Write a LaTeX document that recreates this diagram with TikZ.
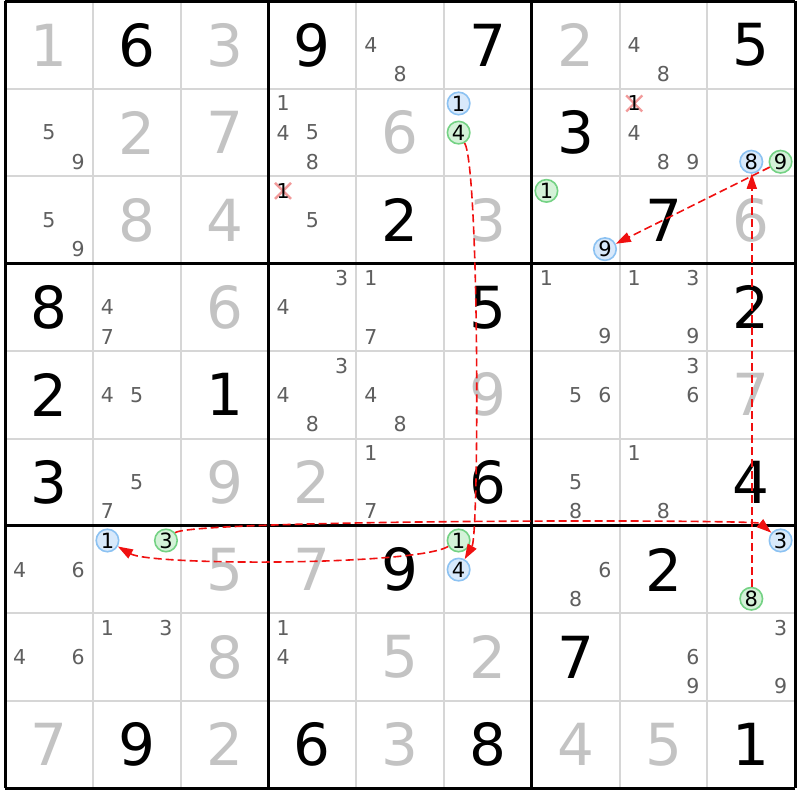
\documentclass[tikz,border=0pt]{standalone}
\usepackage{fontspec}
\setmainfont{DejaVu Sans}
\usetikzlibrary{arrows.meta}
\definecolor{solvedC}{HTML}{C3C3C3}
\definecolor{candC}{HTML}{5F5F5F}
\definecolor{gridC}{HTML}{D6D6D6}
\definecolor{blueF}{HTML}{D8E9FB}
\definecolor{blueS}{HTML}{8CC2F2}
\definecolor{greenF}{HTML}{D4F2D8}
\definecolor{greenS}{HTML}{74D284}
\definecolor{crossC}{HTML}{F29A9A}
\definecolor{chainC}{HTML}{F01010}
\newcommand\bigfont{\fontsize{58}{58}\selectfont}
\newcommand\candfont{\fontsize{20.5}{20.5}\selectfont}
\newcommand\circfont{\fontsize{21}{21}\selectfont}
\newcommand\PutBig[4]{%
  \node[#1] (d-#2-#3) at ({5+(#3-0.5)*87.8},{-(1.5+(#2-0.5)*87.4)}) {#4};}
\newcommand\Gv[3]{\PutBig{givenD}{#1}{#2}{#3}}
\newcommand\Sv[3]{\PutBig{solvedD}{#1}{#2}{#3}}
\newcommand\CandPos[3]{%
  \pgfmathsetmacro\candx{5+(#2-1)*87.8+(mod(#3-1,3)+0.5)*87.8/3}%
  \pgfmathsetmacro\candy{-(1.5+(#1-1)*87.4+(floor((#3-1)/3)+0.5)*87.4/3)}}
\newcommand\PutCand[4]{%
  \CandPos{#2}{#3}{#4}%
  \node[#1] (k-#2-#3-#4) at (\candx,\candy) {#4};}
\newcommand\Cd[3]{\PutCand{candD}{#1}{#2}{#3}}
\newcommand\Cb[3]{\PutCand{blueD}{#1}{#2}{#3}}
\newcommand\Cg[3]{\PutCand{greenD}{#1}{#2}{#3}}
\newcommand\Cx[3]{%
  \CandPos{#1}{#2}{#3}%
  \draw[crossL] (\candx-8,\candy-8) -- (\candx+8,\candy+8) (\candx-8,\candy+8) -- (\candx+8,\candy-8);
  \node[xD] (k-#1-#2-#3) at (\candx,\candy) {#3};}
\begin{document}
\begin{tikzpicture}[x=1pt,y=1pt,
  givenD/.style={inner sep=0pt,font=\bigfont,text=black},
  solvedD/.style={inner sep=0pt,font=\bigfont,text=solvedC},
  candD/.style={inner sep=0pt,font=\candfont,text=candC},
  xD/.style={inner sep=0pt,font=\candfont,text=black},
  blueD/.style={circle,draw=blueS,fill=blueF,line width=1.6pt,minimum size=22.5pt,inner sep=0pt,font=\circfont,text=black},
  greenD/.style={circle,draw=greenS,fill=greenF,line width=1.6pt,minimum size=22.5pt,inner sep=0pt,font=\circfont,text=black},
  crossL/.style={draw=crossC,line width=2.4pt},
  thinG/.style={draw=gridC,line width=2pt},
  thickG/.style={draw=black,line width=3pt},
  chainA/.style={draw=chainC,line width=1.6pt,dash pattern=on 8pt off 4pt,-{Triangle[length=15pt,width=10pt]}}]
\fill[white] (0,0) rectangle (800,-800);
\useasboundingbox (0,0) rectangle (800,-800);
% grid
\foreach \i in {1,2,4,5,7,8}{
  \draw[thinG] ({5+\i*87.8},-1.5) -- ({5+\i*87.8},-788.1);
  \draw[thinG] (5,{-(1.5+\i*87.4)}) -- (795.2,{-(1.5+\i*87.4)});
}
\foreach \i in {0,3,6,9}{
  \draw[thickG] ({5+\i*87.8},-1.5) -- ({5+\i*87.8},-788.1);
  \draw[thickG] (5,{-(1.5+\i*87.4)}) -- (795.2,{-(1.5+\i*87.4)});
}
% row 1
\Sv{1}{1}{1}\Gv{1}{2}{6}\Sv{1}{3}{3}\Gv{1}{4}{9}\Cd{1}{5}{4}\Cd{1}{5}{8}\Gv{1}{6}{7}\Sv{1}{7}{2}\Cd{1}{8}{4}\Cd{1}{8}{8}\Gv{1}{9}{5}
% row 2
\Cd{2}{1}{5}\Cd{2}{1}{9}\Sv{2}{2}{2}\Sv{2}{3}{7}\Cd{2}{4}{1}\Cd{2}{4}{4}\Cd{2}{4}{5}\Cd{2}{4}{8}\Sv{2}{5}{6}\Cb{2}{6}{1}\Cg{2}{6}{4}\Gv{2}{7}{3}
\Cx{2}{8}{1}\Cd{2}{8}{4}\Cd{2}{8}{8}\Cd{2}{8}{9}\Cb{2}{9}{8}\Cg{2}{9}{9}
% row 3
\Cd{3}{1}{5}\Cd{3}{1}{9}\Sv{3}{2}{8}\Sv{3}{3}{4}\Cx{3}{4}{1}\Cd{3}{4}{5}\Gv{3}{5}{2}\Sv{3}{6}{3}\Cg{3}{7}{1}\Cb{3}{7}{9}\Gv{3}{8}{7}\Sv{3}{9}{6}
% row 4
\Gv{4}{1}{8}\Cd{4}{2}{4}\Cd{4}{2}{7}\Sv{4}{3}{6}\Cd{4}{4}{3}\Cd{4}{4}{4}\Cd{4}{5}{1}\Cd{4}{5}{7}\Gv{4}{6}{5}\Cd{4}{7}{1}\Cd{4}{7}{9}\Cd{4}{8}{1}\Cd{4}{8}{3}\Cd{4}{8}{9}\Gv{4}{9}{2}
% row 5
\Gv{5}{1}{2}\Cd{5}{2}{4}\Cd{5}{2}{5}\Gv{5}{3}{1}\Cd{5}{4}{3}\Cd{5}{4}{4}\Cd{5}{4}{8}\Cd{5}{5}{4}\Cd{5}{5}{8}\Sv{5}{6}{9}\Cd{5}{7}{5}\Cd{5}{7}{6}\Cd{5}{8}{3}\Cd{5}{8}{6}\Sv{5}{9}{7}
% row 6
\Gv{6}{1}{3}\Cd{6}{2}{5}\Cd{6}{2}{7}\Sv{6}{3}{9}\Sv{6}{4}{2}\Cd{6}{5}{1}\Cd{6}{5}{7}\Gv{6}{6}{6}\Cd{6}{7}{5}\Cd{6}{7}{8}\Cd{6}{8}{1}\Cd{6}{8}{8}\Gv{6}{9}{4}
% row 7
\Cd{7}{1}{4}\Cd{7}{1}{6}\Cb{7}{2}{1}\Cg{7}{2}{3}\Sv{7}{3}{5}\Sv{7}{4}{7}\Gv{7}{5}{9}\Cg{7}{6}{1}\Cb{7}{6}{4}\Cd{7}{7}{6}\Cd{7}{7}{8}\Gv{7}{8}{2}\Cb{7}{9}{3}\Cg{7}{9}{8}
% row 8
\Cd{8}{1}{4}\Cd{8}{1}{6}\Cd{8}{2}{1}\Cd{8}{2}{3}\Sv{8}{3}{8}\Cd{8}{4}{1}\Cd{8}{4}{4}\Sv{8}{5}{5}\Sv{8}{6}{2}\Gv{8}{7}{7}\Cd{8}{8}{6}\Cd{8}{8}{9}\Cd{8}{9}{3}\Cd{8}{9}{9}
% row 9
\Sv{9}{1}{7}\Gv{9}{2}{9}\Sv{9}{3}{2}\Gv{9}{4}{6}\Sv{9}{5}{3}\Gv{9}{6}{8}\Sv{9}{7}{4}\Sv{9}{8}{5}\Gv{9}{9}{1}
% chain
\draw[chainA] (k-2-6-4) to[out=-60,in=60,looseness=0.18] (k-7-6-4);
\draw[chainA] (k-7-6-1) to[out=-150,in=-30,looseness=0.3] (k-7-2-1);
\draw[chainA] (k-7-2-3) to[out=40,in=140,looseness=0.09] (k-7-9-3);
\draw[chainA] ([xshift=0.5pt]k-7-9-8.north) -- ([xshift=0.5pt]k-2-9-8.south);
\draw[chainA] (k-2-9-9) -- (k-3-7-9);
\end{tikzpicture}
\end{document}
